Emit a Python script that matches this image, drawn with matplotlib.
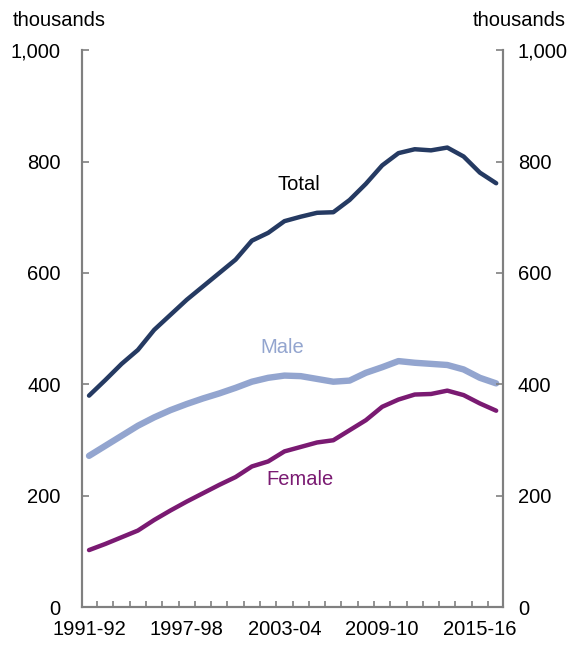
import matplotlib.pyplot as plt
import numpy as np

plt.rcParams['font.family'] = ['Liberation Sans', 'DejaVu Sans']

years = [f"{y}-{str(y + 1)[-2:]}" for y in range(1991, 2017)]
total = [380, 408, 437, 462, 498, 525, 552, 576, 600, 624, 658, 672, 693,
         701, 708, 709, 731, 760, 793, 815, 822, 820, 825, 809, 780, 761]
male = [272, 290, 308, 326, 341, 354, 365, 375, 384, 394, 405, 412, 416,
        415, 410, 405, 407, 421, 431, 442, 439, 437, 435, 427, 412, 402]
female = [103, 114, 126, 138, 157, 174, 190, 205, 220, 234, 253, 262, 280,
          288, 296, 300, 318, 336, 360, 373, 382, 383, 389, 381, 366, 353]
shown_labels = ["1991-92", "1997-98", "2003-04", "2009-10", "2015-16"]

c_total = "#253a62"
c_male = "#93a5cf"
c_female = "#7a1a72"
grey = "#808080"
fs = 14.5

fig = plt.figure(figsize=(5.77, 6.46), dpi=100)
ax = fig.add_axes([0.1416, 0.0596, 0.7296, 0.863])
x = np.arange(len(years))

ax.plot(x, male, color=c_male, lw=4.6, solid_capstyle='round')
ax.plot(x, female, color=c_female, lw=3.2, solid_capstyle='round')
ax.plot(x, total, color=c_total, lw=3.2, solid_capstyle='round')

ax.text(12.9, 758, "Total", color="black", fontsize=fs, ha='center', va='center')
ax.text(11.85, 467, "Male", color=c_male, fontsize=fs, ha='center', va='center')
ax.text(12.96, 230, "Female", color=c_female, fontsize=fs, ha='center', va='center')

ax.set_xlim(-0.45, 25.4)
ax.set_ylim(0, 1000)

ax.set_xticks([years.index(s) for s in shown_labels])
ax.set_xticklabels(shown_labels)
ax.set_xticks(np.arange(len(years) - 1) + 0.5, minor=True)
ax.tick_params(axis='x', which='major', length=0, pad=9, labelsize=fs)
ax.tick_params(axis='x', which='minor', direction='in', length=4, width=1.2, color=grey)

yt = [0, 200, 400, 600, 800, 1000]
ylabels = [f"{v:,}" for v in yt]
ax.set_yticks(yt)
ax.set_yticklabels(ylabels)
ax.tick_params(axis='y', direction='in', length=5, width=1.2, color=grey, pad=15, labelsize=fs)

ax2 = ax.twinx()
ax2.set_ylim(0, 1000)
ax2.set_yticks(yt)
ax2.set_yticklabels(ylabels)
ax2.tick_params(axis='y', direction='in', length=5, width=1.2, color=grey, pad=11, labelsize=fs)

for a in (ax, ax2):
    a.spines['top'].set_visible(False)
    for s in ('left', 'right', 'bottom'):
        a.spines[s].set_color(grey)
        a.spines[s].set_linewidth(1.5)

fig.text(0.0225, 0.969, "thousands", fontsize=fs, ha='left', va='center')
fig.text(0.98, 0.969, "thousands", fontsize=fs, ha='right', va='center')

fig.savefig("out.png", dpi=100)
